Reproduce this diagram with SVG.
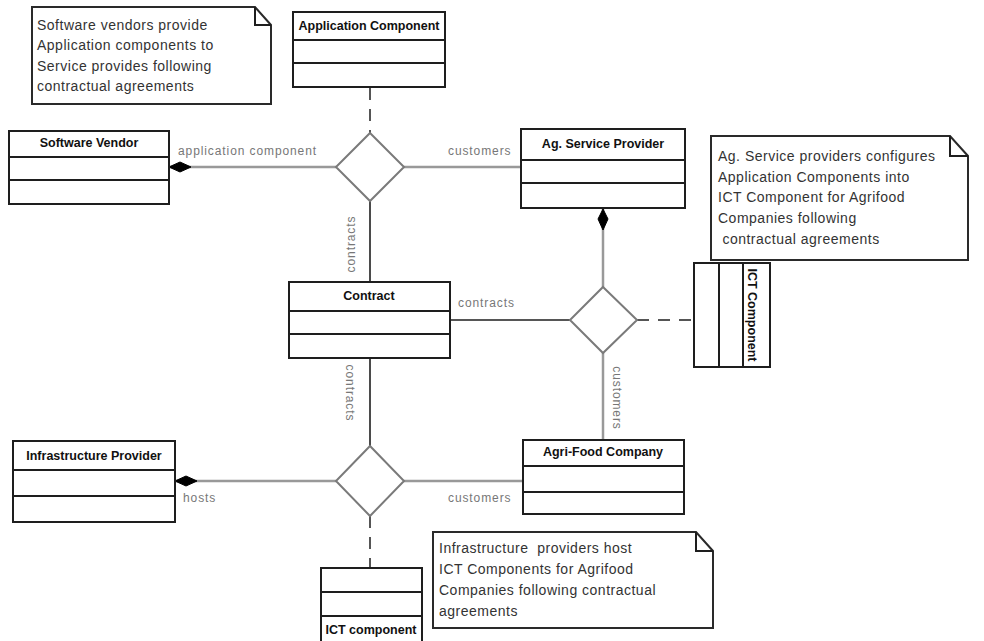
<svg xmlns="http://www.w3.org/2000/svg" width="984" height="641" viewBox="0 0 984 641">
  <defs>
    <style>
      .box { fill: #ffffff; stroke: #1e1e1e; stroke-width: 2; }
      .div { stroke: #1e1e1e; stroke-width: 2; fill: none; }
      .title { font-family: "Liberation Sans", Arial, sans-serif; font-size: 12.5px; font-weight: bold; fill: #111; text-anchor: middle; }
      .note { fill: #ffffff; stroke: #2a2a2a; stroke-width: 2; }
      .notetext { font-family: "Liberation Sans", Arial, sans-serif; font-size: 14px; letter-spacing: 0.5px; fill: #333; }
      .rel { fill: #ffffff; stroke: #7a7a7a; stroke-width: 2; }
      .assoc { stroke: #999; stroke-width: 2.5; fill: none; }
      .link { stroke: #1e1e1e; stroke-width: 1.6; fill: none; }
      .dash { stroke: #555; stroke-width: 2; fill: none; stroke-dasharray: 12 9; }
      .lbl { font-family: "Liberation Sans", Arial, sans-serif; font-size: 12px; letter-spacing: 0.9px; fill: #777; }
      .comp { fill: #000; stroke: #000; stroke-width: 1; }
    </style>
  </defs>

  <rect width="984" height="641" fill="#ffffff"/>

  <!-- connectors -->
  <g id="connectors">
    <line class="assoc" x1="169" y1="167" x2="336" y2="167"/>
    <polygon class="comp" points="169,167 180,162 191,167 180,172"/>
    <line class="assoc" x1="404" y1="167" x2="521" y2="167"/>
    <line class="dash" x1="370" y1="88" x2="370" y2="133"/>
    <line class="link" x1="370" y1="201" x2="370" y2="282"/>
    <line class="assoc" x1="603" y1="209" x2="603" y2="287"/>
    <polygon class="comp" points="603,209 608,219 603,230 598,219"/>
    <line class="link" x1="450" y1="320" x2="570" y2="320"/>
    <line class="dash" x1="637" y1="320" x2="694" y2="320"/>
    <line class="assoc" x1="603" y1="353" x2="603" y2="440"/>
    <line class="link" x1="370" y1="358" x2="370" y2="446"/>
    <line class="assoc" x1="175" y1="481" x2="336" y2="481"/>
    <polygon class="comp" points="175,481 186,476 197,481 186,486"/>
    <line class="assoc" x1="404" y1="481" x2="523" y2="481"/>
    <line class="dash" x1="370" y1="516" x2="370" y2="568"/>

    <text class="lbl" x="178" y="155">application component</text>
    <text class="lbl" x="448" y="155">customers</text>
    <text class="lbl" transform="translate(355,244) rotate(-90)" text-anchor="middle">contracts</text>
    <text class="lbl" x="458" y="307">contracts</text>
    <text class="lbl" transform="translate(346,393) rotate(90)" text-anchor="middle">contracts</text>
    <text class="lbl" transform="translate(613,398) rotate(90)" text-anchor="middle">customers</text>
    <text class="lbl" x="183" y="502">hosts</text>
    <text class="lbl" x="448" y="502">customers</text>
  </g>

  <!-- relationship diamonds -->
  <g id="rel-top"><polygon class="rel" points="370,133 404,167 370,201 336,167"/></g>
  <g id="rel-mid"><polygon class="rel" points="603,287 637,320 603,353 570,320"/></g>
  <g id="rel-bottom"><polygon class="rel" points="370,446 404,481 370,516 336,481"/></g>

  <!-- notes -->
  <g id="note-vendors">
    <path class="note" d="M32,7 H255 L271,25 V104 H32 Z"/>
    <path class="div" d="M255,7 V25 H271"/>
    <text class="notetext" x="37" y="30">Software vendors provide</text>
    <text class="notetext" x="37" y="50">Application components to</text>
    <text class="notetext" x="37" y="71">Service provides following</text>
    <text class="notetext" x="37" y="91">contractual agreements</text>
  </g>

  <g id="note-service">
    <path class="note" d="M711,136 H950 L968,156 V260 H711 Z"/>
    <path class="div" d="M950,136 V156 H968"/>
    <text class="notetext" x="718" y="161">Ag. Service providers configures</text>
    <text class="notetext" x="718" y="182">Application Components into</text>
    <text class="notetext" x="718" y="202">ICT Component for Agrifood</text>
    <text class="notetext" x="718" y="223">Companies following</text>
    <text class="notetext" x="718" y="244" xml:space="preserve"> contractual agreements</text>
  </g>

  <g id="note-infra">
    <path class="note" d="M433,532 H696 L713,551 V628 H433 Z"/>
    <path class="div" d="M696,532 V551 H713"/>
    <text class="notetext" x="439" y="553" xml:space="preserve">Infrastructure  providers host</text>
    <text class="notetext" x="439" y="574">ICT Components for Agrifood</text>
    <text class="notetext" x="439" y="595">Companies following contractual</text>
    <text class="notetext" x="439" y="616">agreements</text>
  </g>

  <!-- classes -->
  <g id="application-component">
    <rect class="box" x="293" y="12" width="152" height="75"/>
    <path class="div" d="M293,40 H445 M293,63 H445"/>
    <text class="title" x="369" y="30">Application Component</text>
  </g>

  <g id="software-vendor">
    <rect class="box" x="9" y="131" width="160" height="73"/>
    <path class="div" d="M9,157 H169 M9,180 H169"/>
    <text class="title" x="89" y="147">Software Vendor</text>
  </g>

  <g id="ag-service-provider">
    <rect class="box" x="521" y="129" width="164" height="79"/>
    <path class="div" d="M521,160 H685 M521,183 H685"/>
    <text class="title" x="603" y="148">Ag. Service Provider</text>
  </g>

  <g id="contract">
    <rect class="box" x="289" y="282" width="161" height="76"/>
    <path class="div" d="M289,311 H450 M289,334 H450"/>
    <text class="title" x="369" y="300">Contract</text>
  </g>

  <g id="ict-component-service">
    <rect class="box" x="694" y="263" width="76" height="104"/>
    <path class="div" d="M719,263 V367 M743,263 V367"/>
    <text class="title" transform="translate(748,315) rotate(90)">ICT Component</text>
  </g>

  <g id="infrastructure-provider">
    <rect class="box" x="13" y="441" width="162" height="81"/>
    <path class="div" d="M13,470 H175 M13,496 H175"/>
    <text class="title" x="94" y="460">Infrastructure Provider</text>
  </g>

  <g id="agri-food-company">
    <rect class="box" x="523" y="440" width="161" height="74"/>
    <path class="div" d="M523,466 H684 M523,492 H684"/>
    <text class="title" x="603" y="456">Agri-Food Company</text>
  </g>

  <g id="ict-component-infra">
    <rect class="box" x="321" y="568" width="101" height="90"/>
    <path class="div" d="M321,592 H422 M321,616 H422"/>
    <text class="title" x="371" y="634">ICT component</text>
  </g>
</svg>
